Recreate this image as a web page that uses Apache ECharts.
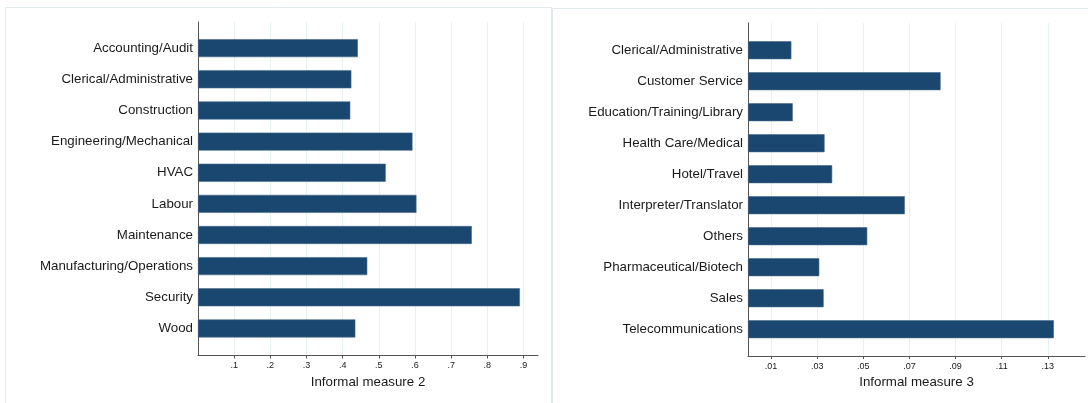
<!DOCTYPE html>
<html>
<head>
<meta charset="utf-8">
<script src="https://cdn.jsdelivr.net/npm/echarts@6/dist/echarts.min.js"></script>
<style>
  html, body { margin: 0; padding: 0; background: #ffffff; }
  #chart { width: 1088px; height: 403px; }
</style>
</head>
<body>
<div id="chart"></div>
<script>
// Panel 1: informal measure 2 by job category
const categoriesA = ['Accounting/Audit', 'Clerical/Administrative', 'Construction', 'Engineering/Mechanical',
  'HVAC', 'Labour', 'Maintenance', 'Manufacturing/Operations', 'Security', 'Wood'];
const valuesA = [0.442, 0.424, 0.421, 0.593, 0.519, 0.604, 0.757, 0.468, 0.890, 0.435];
const ticksA = [0.1, 0.2, 0.3, 0.4, 0.5, 0.6, 0.7, 0.8, 0.9];
const titleA = 'Informal measure 2';

// Panel 2: informal measure 3 by job category
const categoriesB = ['Clerical/Administrative', 'Customer Service', 'Education/Training/Library', 'Health Care/Medical',
  'Hotel/Travel', 'Interpreter/Translator', 'Others', 'Pharmaceutical/Biotech', 'Sales', 'Telecommunications'];
const valuesB = [0.0188, 0.0835, 0.0194, 0.0332, 0.0365, 0.0680, 0.0517, 0.0309, 0.0328, 0.1326];
const ticksB = [0.01, 0.03, 0.05, 0.07, 0.09, 0.11, 0.13];
const titleB = 'Informal measure 3';

const FONT = '"Liberation Sans", Arial, Helvetica, sans-serif';
const BAR = '#1a476f';
const GRIDLINE = '#e8f0f2';
const AXIS = '#555555';
const TEXT = '#1a1a1a';

// Stata-style tick text: drop the leading zero (.1, .03)
const stripZero = v => String(+v.toFixed(4)).replace(/^0\./, '.');

// Each panel uses a frame grid (axis lines, grid lines, tick labels)
// and an inner grid holding the category bands and the bars.
function panel(idx, frame, inner, max, cats, vals, ticks, title) {
  const g0 = idx * 2, g1 = idx * 2 + 1;
  return {
    grids: [frame, inner],
    xAxes: [
      {
        gridIndex: g0, type: 'value', min: 0, max: max,
        axisLine: { show: true, lineStyle: { color: AXIS, width: 1 } },
        axisTick: { show: true, length: 3, customValues: ticks, lineStyle: { color: AXIS } },
        axisLabel: { customValues: ticks, formatter: stripZero, fontFamily: FONT, fontSize: 9, color: TEXT, margin: 6 },
        splitLine: { show: true, lineStyle: { color: GRIDLINE, width: 1 } },
        name: title, nameLocation: 'middle', nameGap: 19,
        nameTextStyle: { fontFamily: FONT, fontSize: 13.3, color: TEXT }
      },
      {
        gridIndex: g1, type: 'value', min: 0, max: max, show: false
      }
    ],
    yAxes: [
      {
        gridIndex: g0, type: 'value', min: 0, max: 1,
        axisLine: { show: true, onZero: false, lineStyle: { color: AXIS, width: 1 } },
        axisTick: { show: false }, axisLabel: { show: false }, splitLine: { show: false }
      },
      {
        gridIndex: g1, type: 'category', data: cats, inverse: true,
        axisLine: { show: false }, axisTick: { show: false }, splitLine: { show: false },
        axisLabel: { fontFamily: FONT, fontSize: 13.3, color: TEXT, margin: 5, interval: 0 }
      }
    ],
    series: [{
      type: 'bar', xAxisIndex: g1, yAxisIndex: g1, data: vals, barWidth: 18,
      itemStyle: { color: BAR, borderColor: '#46698a', borderWidth: 0.6 },
      silent: true
    }]
  };
}

const pA = panel(0,
  { left: 198, top: 22, width: 340, height: 333.5 },
  { left: 198, top: 32.6, width: 340, height: 311.4 },
  0.94, categoriesA, valuesA, ticksA, titleA);
const pB = panel(1,
  { left: 748, top: 23, width: 337, height: 333 },
  { left: 748, top: 34.7, width: 337, height: 310 },
  0.1461, categoriesB, valuesB, ticksB, titleB);

const chart = echarts.init(document.getElementById('chart'), null, { renderer: 'canvas' });
chart.setOption({
  backgroundColor: '#ffffff',
  animation: false,
  graphic: [
    { type: 'rect', shape: { x: 5.5, y: 7.5, width: 546, height: 420 },
      style: { fill: 'none', stroke: '#e2e9ec', lineWidth: 1 }, silent: true, z: -10 },
    { type: 'rect', shape: { x: 552.5, y: 8.5, width: 560, height: 420 },
      style: { fill: 'none', stroke: '#e2e9ec', lineWidth: 1 }, silent: true, z: -10 }
  ],
  grid: pA.grids.concat(pB.grids),
  xAxis: pA.xAxes.concat(pB.xAxes),
  yAxis: pA.yAxes.concat(pB.yAxes),
  series: [
    Object.assign({}, pA.series[0]),
    Object.assign({}, pB.series[0], { xAxisIndex: 3, yAxisIndex: 3 })
  ]
});
</script>
</body>
</html>
